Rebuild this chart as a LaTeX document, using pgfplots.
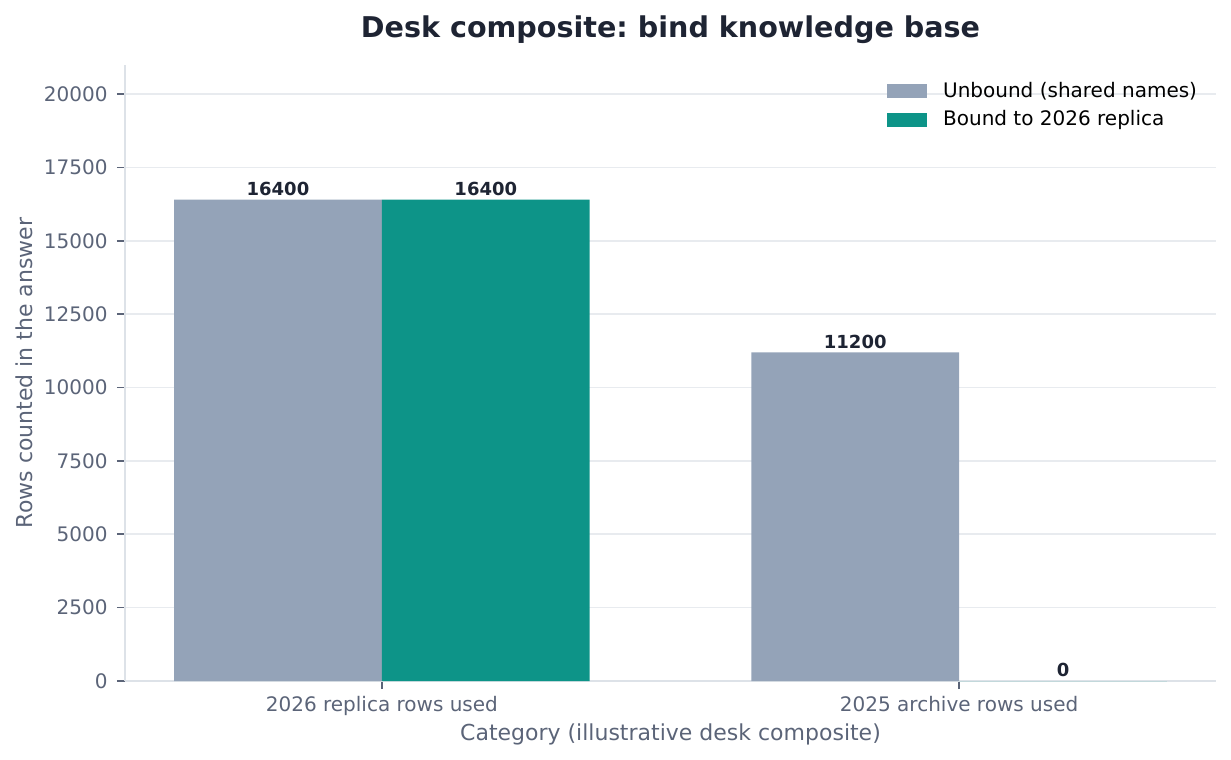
\documentclass[border=0pt]{standalone}
\usepackage{fontspec}
\setmainfont{DejaVu Sans}
\usepackage{pgfplots}
\pgfplotsset{compat=1.18,
  /pgf/number format/assume math mode=true,
  /pgf/number format/1000 sep={}}
\definecolor{barA}{HTML}{94A3B8}
\definecolor{barB}{HTML}{0D9488}
\definecolor{tickc}{HTML}{5B6478}
\definecolor{titlec}{HTML}{1E2433}
\definecolor{gridc}{HTML}{E8EBEF}
\definecolor{spinec}{HTML}{DDE2E8}
\frenchspacing
\begin{document}
\begin{tikzpicture}
\useasboundingbox (-62.5pt,-39.5pt) rectangle (553pt,340.5pt);
\begin{axis}[
  scale only axis, width=545.5pt, height=308pt,
  at={(0,0)}, anchor=south west,
  xmin=-0.445, xmax=1.445, ymin=0, ymax=20992,
  ybar, bar width=0.36,
  xtick={0,1}, xticklabels={2026 replica rows used, 2025 archive rows used},
  ytick={0,2500,...,20000},
  scaled y ticks=false,
  ymajorgrids, grid style={gridc, line width=0.8pt},
  axis x line*=bottom, axis y line*=left,
  axis line style={draw=spinec, line width=1pt, -},
  tick align=outside, major tick length=4pt,
  tick style={tickc, line width=0.8pt},
  xticklabel style={font=\fontsize{10}{12}\selectfont, text=tickc, anchor=base, yshift=-11pt, inner sep=0pt},
  yticklabel style={font=\fontsize{10}{12}\selectfont, text=tickc, anchor=east, xshift=-4.5pt, inner sep=0pt},
  xlabel={Category (illustrative desk composite)},
  xlabel style={at={(axis description cs:0.5,-0.09578)}, anchor=base, font=\fontsize{11}{13}\selectfont, text=tickc, inner sep=0pt},
  ylabel={Rows counted in the answer},
  ylabel style={at={(axis description cs:-0.08524,0.5)}, anchor=base, rotate=0, font=\fontsize{11}{13}\selectfont, text=tickc, inner sep=0pt},
  title={Desk composite: bind knowledge base},
  title style={at={(axis description cs:0.5,1)}, anchor=base, yshift=7.5pt, font=\bfseries\fontsize{14.3}{17}\selectfont, text=titlec, inner sep=0pt},
  nodes near coords,
  nodes near coords style={font=\bfseries\fontsize{9}{11}\selectfont, text=titlec, anchor=south, inner sep=1.8pt},
  legend style={draw=none, fill=none, at={(1,1)}, anchor=north east, xshift=-9.5pt, yshift=-8.55pt,
    inner sep=0pt, outer sep=0pt, font=\fontsize{10}{12}\selectfont, text=black,
    cells={anchor=west}, row sep=5.2pt, column sep=8pt, nodes={inner sep=0pt}},
]
\addplot[fill=barA, draw=none, bar shift=-0.18,
  legend image code/.code={\fill[barA] (0pt,-3.5pt) rectangle (20pt,3.5pt);}]
  coordinates {(0,16400) (1,11200)};
\addlegendentry{Unbound (shared names)}
\addplot[fill=barB, draw=none, bar shift=0.18,
  legend image code/.code={\fill[barB] (0pt,-3.5pt) rectangle (20pt,3.5pt);}]
  coordinates {(0,16400) (1,0)};
\addlegendentry{Bound to 2026 replica}
\end{axis}
\end{tikzpicture}
\end{document}
